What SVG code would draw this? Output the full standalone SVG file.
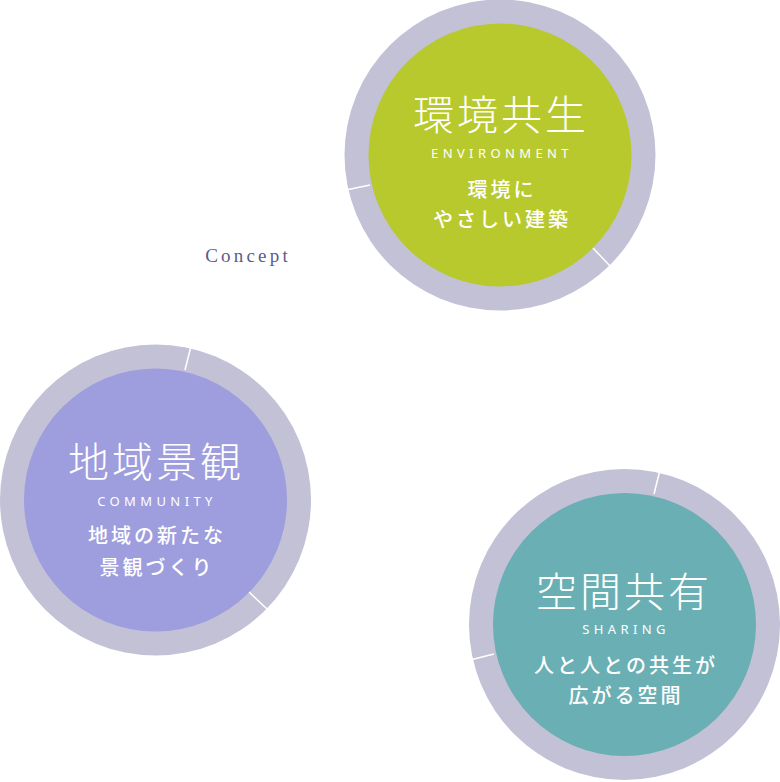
<svg xmlns="http://www.w3.org/2000/svg" width="780" height="782" viewBox="0 0 780 782">
<style>
.ring{fill:#c2c1d6}
.div{stroke:#ffffff;stroke-width:1.5;fill:none}
.t{font-family:"Noto Sans CJK JP","Noto Sans",sans-serif;fill:#ffffff;text-anchor:middle}
.title{font-size:41px;font-weight:300;letter-spacing:3px}
.en{font-family:"Noto Sans","Open Sans",sans-serif;font-size:13px;letter-spacing:4.4px}
.sub{font-size:20px;font-weight:500;letter-spacing:3px}
</style>
<rect width="780" height="782" fill="#ffffff"/>
<text x="248" y="262" font-family="'Liberation Serif',serif" font-size="19" letter-spacing="3.2" fill="#5b5a8e" text-anchor="middle">Concept</text>
<g id="environment">
<circle class="ring" cx="500" cy="155" r="155.5"/>
<circle cx="500" cy="155" r="131.5" fill="#b8c92e"/>
<line class="div" x1="346" y1="190" x2="370" y2="185"/>
<line class="div" x1="593" y1="248" x2="610" y2="266"/>
<text class="t title" x="501" y="130">環境共生</text>
<text class="t en" x="502" y="158">ENVIRONMENT</text>
<text class="t sub" x="502" y="197">環境に</text>
<text class="t sub" x="502" y="227">やさしい建築</text>
</g>
<g id="community">
<circle class="ring" cx="155.5" cy="500" r="155.5"/>
<circle cx="155.5" cy="500" r="131.5" fill="#9e9ddd"/>
<line class="div" x1="191" y1="346" x2="185" y2="370"/>
<line class="div" x1="249" y1="592" x2="267" y2="609"/>
<text class="t title" x="156" y="477">地域景観</text>
<text class="t en" x="157" y="506">COMMUNITY</text>
<text class="t sub" x="157" y="543">地域の新たな</text>
<text class="t sub" x="157" y="575">景観づくり</text>
</g>
<g id="sharing">
<circle class="ring" cx="624.5" cy="624.5" r="155.5"/>
<circle cx="624.5" cy="624.5" r="131.5" fill="#6aafb3"/>
<line class="div" x1="660" y1="470" x2="654" y2="494"/>
<line class="div" x1="470" y1="660" x2="494" y2="654"/>
<text class="t title" x="624" y="607">空間共有</text>
<text class="t en" x="626" y="634">SHARING</text>
<text class="t sub" x="626" y="673">人と人との共生が</text>
<text class="t sub" x="626" y="703">広がる空間</text>
</g>
</svg>
